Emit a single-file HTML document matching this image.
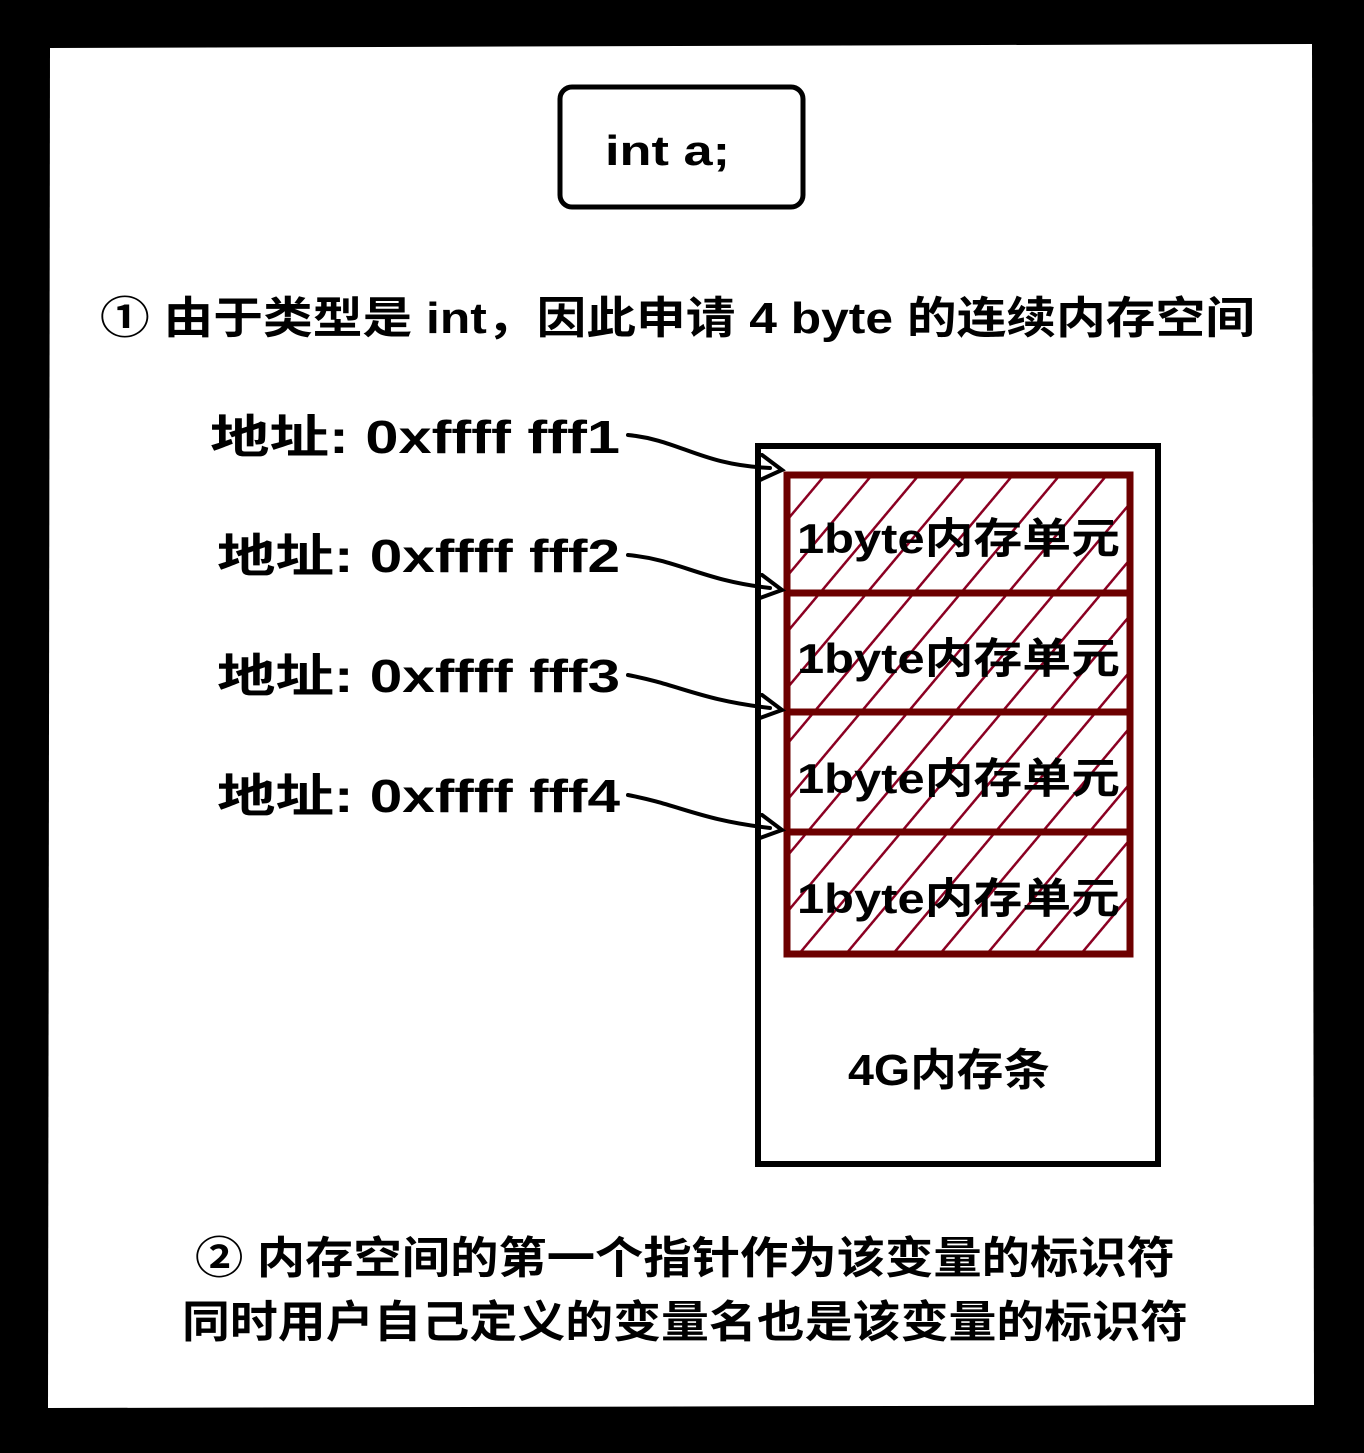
<!DOCTYPE html>
<html><head><meta charset="utf-8"><style>
html,body{margin:0;padding:0;background:#000;}
body{width:1364px;height:1448px;overflow:hidden;}
svg text{font-family:"Liberation Sans","Noto Sans CJK SC",sans-serif;font-weight:bold;fill:#000;}
</style></head><body>
<svg width="1364" height="1448" viewBox="0 0 1364 1448" xmlns="http://www.w3.org/2000/svg">
<defs>
<pattern id="h" patternUnits="userSpaceOnUse" width="36" height="36" patternTransform="rotate(40)">
<line x1="0" y1="0" x2="0" y2="36" stroke="#8b0022" stroke-width="5"/>
</pattern>
</defs>
<rect x="0" y="0" width="1364" height="1448" fill="#000"/>
<polygon points="50,48 1312,44 1314,1405 48,1408" fill="#fff"/>
<rect x="560" y="87" width="243" height="120" rx="12" fill="#fff" stroke="#000" stroke-width="5"/>
<text x="605" y="165" font-size="42" textLength="125" lengthAdjust="spacingAndGlyphs">int a;</text>
<text x="100" y="333" font-size="44" textLength="1155" lengthAdjust="spacingAndGlyphs">① 由于类型是 int，因此申请 4 byte 的连续内存空间</text>
<rect x="758" y="446" width="400" height="718" fill="#fff" stroke="#000" stroke-width="6"/>
<g stroke="#6d0000" stroke-width="7">
<rect x="787" y="475" width="343" height="118" fill="url(#h)"/>
<rect x="787" y="593" width="343" height="119" fill="url(#h)"/>
<rect x="787" y="712" width="343" height="120" fill="url(#h)"/>
<rect x="787" y="832" width="343" height="122" fill="url(#h)"/>
</g>
<g font-size="42">
<text x="797" y="553" textLength="323" lengthAdjust="spacingAndGlyphs">1byte内存单元</text>
<text x="797" y="673" textLength="323" lengthAdjust="spacingAndGlyphs">1byte内存单元</text>
<text x="797" y="793" textLength="323" lengthAdjust="spacingAndGlyphs">1byte内存单元</text>
<text x="797" y="913" textLength="323" lengthAdjust="spacingAndGlyphs">1byte内存单元</text>
</g>
<text x="848" y="1085" font-size="44" textLength="202" lengthAdjust="spacingAndGlyphs">4G内存条</text>
<g font-size="46">
<text x="210" y="453" textLength="410" lengthAdjust="spacingAndGlyphs">地址: 0xffff fff1</text>
<text x="217" y="572" textLength="403" lengthAdjust="spacingAndGlyphs">地址: 0xffff fff2</text>
<text x="217" y="692" textLength="403" lengthAdjust="spacingAndGlyphs">地址: 0xffff fff3</text>
<text x="217" y="812" textLength="403" lengthAdjust="spacingAndGlyphs">地址: 0xffff fff4</text>
</g>
<g stroke="#000" stroke-width="4" fill="none" stroke-linecap="round">
<path d="M628,435 C680,440 700,465 770,468"/><path d="M762,455 L782,470 L760,480"/>
<path d="M628,555 C680,560 700,580 770,588"/><path d="M762,575 L782,590 L760,598"/>
<path d="M628,675 C680,685 700,700 770,708"/><path d="M762,695 L782,710 L760,718"/>
<path d="M628,795 C680,805 700,820 770,828"/><path d="M762,815 L782,830 L760,838"/>
</g>
<text x="195" y="1273" font-size="44" textLength="980" lengthAdjust="spacingAndGlyphs">② 内存空间的第一个指针作为该变量的标识符</text>
<text x="182" y="1337" font-size="44" textLength="1006" lengthAdjust="spacingAndGlyphs">同时用户自己定义的变量名也是该变量的标识符</text>
</svg>
</body></html>
